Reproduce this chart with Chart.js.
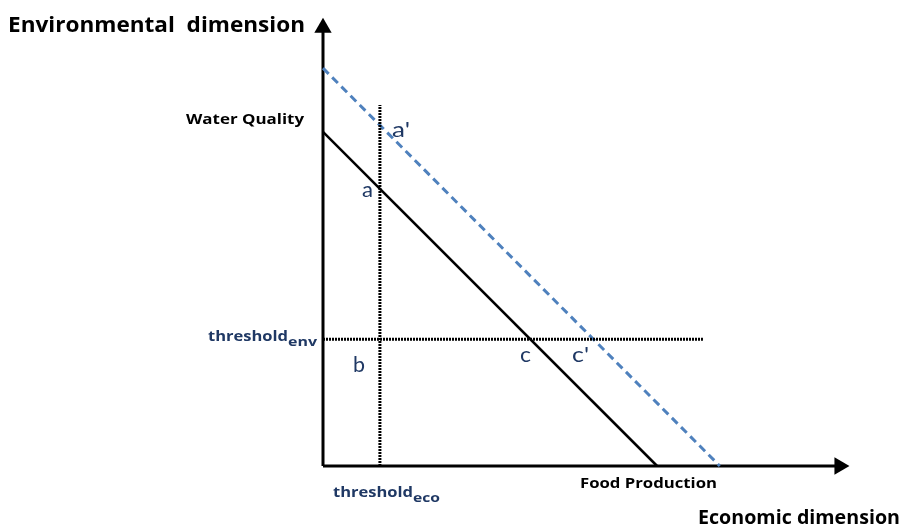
<!DOCTYPE html>
<html>
<head>
<meta charset="utf-8">
<script src="https://cdn.jsdelivr.net/npm/chart.js@4/dist/chart.umd.min.js"></script>
<style>
  html, body { margin: 0; padding: 0; background: #fff; }
  #wrap { width: 904px; height: 531px; }
</style>
</head>
<body>
<div id="wrap"><canvas id="frontierChart" width="904" height="531"></canvas></div>
<script>
// data space: both axes run 0..100
let xAxisLine = [0, 98];          // economic axis, arrow at the end
let yAxisLine = [0, 97.8];        // environmental axis, arrow at the end
let currentFrontier = [74.6, 63.4]; // [water quality at x=0, food production at y=0]
let shiftedFrontier = [88.8, 75.3];
let thresholdEco = 10.8;
let thresholdEnv = 28.3;
let thresholdEcoTop = 80.6;
let thresholdEnvEnd = 72.1;

let navy = "#1f3864";

function fitText(ctx, text, x, y, font, color, width) {
    ctx.save();
    ctx.font = font;
    ctx.fillStyle = color;
    ctx.textBaseline = "alphabetic";
    let w = ctx.measureText(text).width;
    ctx.translate(x, y);
    if (width) ctx.scale(width / w, 1);
    ctx.fillText(text, 0, 0);
    ctx.restore();
}

function subText(ctx, main, sub, x, y, mainWidth, subWidth) {
    fitText(ctx, main, x, y, "bold 15px 'Open Sans'", navy, mainWidth);
    fitText(ctx, sub, x + mainWidth, y + 5, "bold 12px 'Open Sans'", navy, subWidth);
}

const labelsPlugin = {
    id: "labels",
    afterDraw(chart) {
        let ctx = chart.ctx;
        fitText(ctx, "Environmental  dimension", 8, 32, "bold 21px 'Open Sans'", "#000", 297);
        fitText(ctx, "Water Quality", 186, 124, "bold 14px 'Open Sans'", "#000", 118);
        fitText(ctx, "Food Production", 580, 488, "bold 14px 'Open Sans'", "#000", 137);
        fitText(ctx, "Economic dimension", 698, 524, "bold 19px 'Open Sans'", "#000", 202);
        subText(ctx, "threshold", "env", 208, 341, 80, 29);
        subText(ctx, "threshold", "eco", 333, 497, 80, 27);
        let f = "22px Lato";
        fitText(ctx, "a'", 392, 137, f, navy, 18);
        fitText(ctx, "a", 362, 197, f, navy, 11);
        fitText(ctx, "b", 353, 372, f, navy, 12);
        fitText(ctx, "c", 520, 362, f, navy, 11);
        fitText(ctx, "c'", 572, 362, f, navy, 17);
    }
};

let ctxF = document.getElementById("frontierChart").getContext("2d");
let frontierChart = new Chart(ctxF, {
    type: "scatter",
    data: {
        datasets: [{
            label: "threshold eco",
            data: [{x: thresholdEco, y: 0}, {x: thresholdEco, y: thresholdEcoTop}],
            showLine: true,
            borderColor: "#000",
            borderWidth: 3,
            borderDash: [2, 1],
            pointRadius: 0
        }, {
            label: "threshold env",
            data: [{x: 0, y: thresholdEnv}, {x: thresholdEnvEnd, y: thresholdEnv}],
            showLine: true,
            borderColor: "#000",
            borderWidth: 3,
            borderDash: [2, 1],
            pointRadius: 0
        }, {
            label: "current frontier",
            data: [{x: 0, y: currentFrontier[0]}, {x: currentFrontier[1], y: 0}],
            showLine: true,
            borderColor: "#000",
            borderWidth: 2.5,
            pointRadius: 0
        }, {
            label: "shifted frontier",
            data: [{x: 0, y: shiftedFrontier[0]}, {x: shiftedFrontier[1], y: 0}],
            showLine: true,
            borderColor: "#4f81bd",
            borderWidth: 3,
            borderDash: [8, 5],
            pointRadius: 0
        }, {
            label: "economic axis",
            data: [{x: xAxisLine[0], y: 0}, {x: xAxisLine[1], y: 0}],
            showLine: true,
            borderColor: "#000",
            borderWidth: 3,
            pointStyle: "triangle",
            pointRadius: [0, 10],
            pointRotation: 90,
            pointBackgroundColor: "#000",
            pointBorderColor: "#000",
            pointBorderWidth: 0
        }, {
            label: "environmental axis",
            data: [{x: 0, y: yAxisLine[0]}, {x: 0, y: yAxisLine[1]}],
            showLine: true,
            borderColor: "#000",
            borderWidth: 3,
            pointStyle: "triangle",
            pointRadius: [0, 10],
            pointBackgroundColor: "#000",
            pointBorderColor: "#000",
            pointBorderWidth: 0
        }]
    },
    options: {
        responsive: false,
        animation: false,
        clip: false,
        layout: {
            padding: {left: 323, right: 54, top: 18, bottom: 65}
        },
        scales: {
            x: {type: "linear", min: 0, max: 100, display: false},
            y: {type: "linear", min: 0, max: 100, display: false}
        },
        plugins: {
            legend: {display: false},
            tooltip: {enabled: false}
        }
    },
    plugins: [labelsPlugin]
});
</script>
</body>
</html>
